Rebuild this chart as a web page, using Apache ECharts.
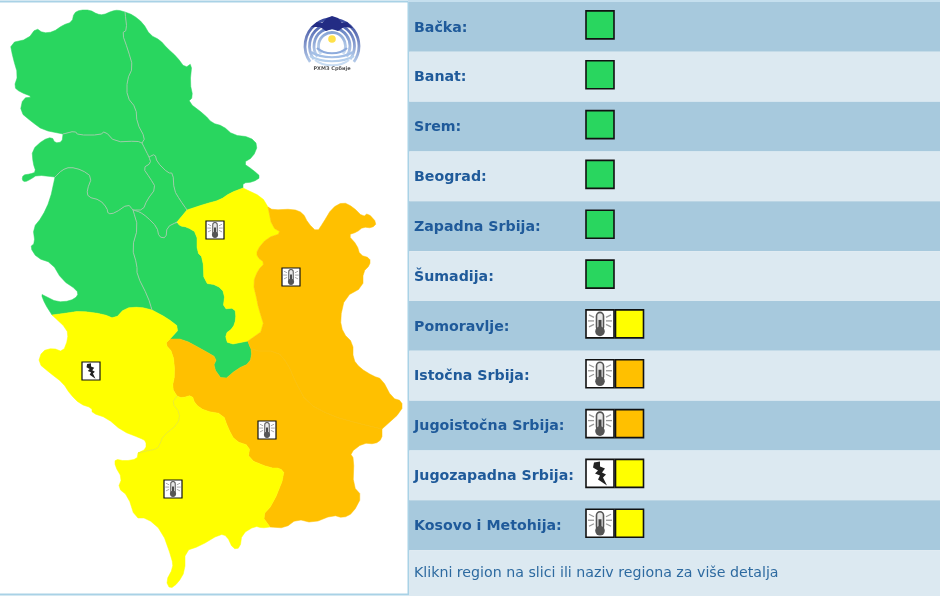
<!DOCTYPE html>
<html>
<head>
<meta charset="utf-8">
<title>Meteoalarm Srbija</title>
<style>
html, body { margin: 0; padding: 0; background: #fff; }
#main { width: 940px; height: 596px; }
</style>
<script src="https://cdn.jsdelivr.net/npm/echarts@6/dist/echarts.min.js"></script>
</head>
<body>
<div id="main"></div>
<script>
var GREEN = '#29d65f', YELLOW = '#ffff00', ORANGE = '#ffc000';

// table
var regionNames = ['Bačka', 'Banat', 'Srem', 'Beograd', 'Zapadna Srbija', 'Šumadija', 'Pomoravlje',
    'Istočna Srbija', 'Jugoistočna Srbija', 'Jugozapadna Srbija', 'Kosovo i Metohija'];
var regionColors = [GREEN, GREEN, GREEN, GREEN, GREEN, GREEN, YELLOW, ORANGE, ORANGE, YELLOW, YELLOW];
var regionIcons = ['', '', '', '', '', '', 'temp', 'temp', 'temp', 'storm', 'temp'];
var footerText = 'Klikni region na slici ili naziv regiona za više detalja';

// icons placed on the map
var mapIconPoints = [[215, 230], [291, 277], [267, 430], [91, 371], [173, 489]];
var mapIconTypes = ['temp', 'temp', 'temp', 'storm', 'temp'];

// traced region borders, in picture pixels
var backaNorth = [[125,12],[118,10],[112,11],[103,15],[97,14],[90,10],[80,10],[74,13],[72,22],[63,25],[53,32],[43,33],[36,28],[28,39],[10,43],[13,58],[18,75],[14,87],[20,92],[33,97],[23,98],[20,112],[32,122],[43,130],[63,134]];
var backaBanat = [[125,12],[127,30],[122,33],[128,50],[133,67],[127,80],[127,97],[136,108],[137,123],[145,138],[142,143]];
var backaSrem = [[63,134],[75,131],[78,135],[100,135],[105,131],[115,142],[137,141],[142,143]];
var sremCoast = [[63,134],[62,142],[55,143],[52,137],[43,140],[32,150],[33,163],[36,172],[30,174],[23,175],[22,180],[25,182],[31,179],[37,175],[55,177]];
var sremZapadna = [[55,177],[62,170],[70,167],[82,170],[92,177],[87,190],[88,197],[100,200],[107,208],[108,214],[115,213],[128,204],[133,210]];
var sremBeograd = [[133,210],[143,210],[147,200],[156,188],[150,178],[143,168],[151,163],[149,157]];
var sremBanat = [[149,157],[142,143]];
var beogradBanat = [[149,157],[155,154],[157,162],[168,173],[173,173],[174,190],[180,200],[187,210]];
var beogradPom = [[187,210],[177,222]];
var beogradSum = [[177,222],[167,227],[166,238],[159,237],[157,227],[147,217],[140,212],[133,210]];
var zapadnaSum = [[133,210],[138,227],[132,248],[137,265],[137,275],[148,297],[152,310]];
var zapadnaCoast = [[55,177],[50,200],[42,217],[33,228],[35,243],[30,247],[37,258],[52,263],[62,280],[77,290],[78,296],[70,301],[57,302],[45,296],[41,294],[45,304],[52,315]];
var zapadnaJz = [[52,315],[67,313],[80,311],[103,314],[115,319],[125,308],[140,307],[152,310]];
var sumJz = [[152,310],[167,318],[180,328],[170,339]];
var sumIst = [[170,339],[183,339],[205,351],[217,358],[213,367],[223,381],[237,369],[250,363],[252,351],[248,341]];
var sumPom = [[177,222],[180,226],[187,227],[197,233],[197,252],[203,258],[204,283],[217,285],[225,293],[223,309],[235,308],[236,319],[233,328],[225,334],[228,345],[248,341]];
var banatEast = [[125,12],[133,15],[143,23],[150,35],[160,40],[167,48],[177,57],[185,68],[192,63],[190,83],[193,97],[188,102],[205,115],[212,123],[223,126],[233,135],[250,137],[258,145],[253,157],[243,163],[253,170],[261,177],[253,182],[243,183],[243,188]];
var banatPom = [[243,188],[230,193],[220,200],[205,204],[187,210]];
var pomCoast = [[243,188],[262,197],[268,207]];
var pomIst = [[268,207],[272,227],[282,233],[267,238],[257,250],[257,257],[265,263],[258,270],[253,283],[257,300],[258,306],[265,329],[248,341]];
var istCoast = [[268,207],[273,210],[293,209],[303,213],[308,223],[317,232],[323,223],[332,208],[343,202],[353,207],[363,217],[368,213],[377,223],[372,228],[363,227],[357,232],[348,235],[357,245],[360,255],[370,258],[370,265],[363,272],[363,287],[345,297],[340,319],[343,333],[353,343],[353,359],[360,368],[373,376],[382,379],[392,398],[402,401],[402,411],[382,429]];
var istJug = [[248,341],[252,351],[277,351],[288,364],[295,381],[307,403],[332,416],[357,423],[382,429]];
var jugCoast = [[382,429],[382,439],[375,444],[363,443],[350,453],[354,459],[353,486],[362,496],[353,513],[343,518],[333,515],[313,523],[297,519],[285,528],[270,527]];
var kosJug = [[177,396],[182,398],[192,395],[195,404],[205,411],[223,414],[228,428],[235,441],[250,446],[248,459],[270,468],[280,468],[285,474],[273,504],[262,516],[270,527]];
var jzIst = [[170,339],[165,344],[173,353],[175,374],[172,388],[177,396]];
var kosJz = [[177,396],[172,403],[180,413],[178,424],[163,436],[160,444],[157,449],[146,451],[138,453]];
var jzCoast = [[52,315],[67,329],[68,339],[63,352],[53,348],[42,351],[38,363],[50,373],[63,383],[70,394],[80,404],[92,408],[92,413],[107,418],[122,431],[140,438],[146,441],[146,449],[138,453]];
var kosCoast = [[138,453],[137,459],[125,461],[115,459],[115,466],[122,478],[118,488],[128,496],[135,518],[147,518],[162,531],[172,559],[173,568],[166,581],[170,589],[178,583],[185,571],[185,551],[200,546],[220,534],[227,536],[233,549],[240,548],[242,534],[255,526],[262,528],[270,527]];

function rev(a) { return a.slice().reverse(); }

// rounds the corners of a traced border, the ends stay put so neighbours still meet
function rounded(a) {
    var next = [a[0]];
    for (var i = 0; i < a.length - 1; i++) {
        var p = a[i], q = a[i + 1];
        next.push([p[0] * 0.75 + q[0] * 0.25, p[1] * 0.75 + q[1] * 0.25]);
        next.push([p[0] * 0.25 + q[0] * 0.75, p[1] * 0.25 + q[1] * 0.75]);
    }
    next.push(a[a.length - 1]);
    return next;
}

function ring() {
    var out = [];
    for (var i = 0; i < arguments.length; i++) out = out.concat(rounded(arguments[i]));
    out.push(out[0]);
    return [out];
}

var regionRings = {
    'Bačka': ring(backaNorth, backaSrem, rev(backaBanat)),
    'Banat': ring(banatEast, banatPom, rev(beogradBanat), sremBanat, rev(backaBanat)),
    'Srem': ring(sremCoast, sremZapadna, sremBeograd, sremBanat, rev(backaSrem)),
    'Beograd': ring(beogradBanat, beogradPom, beogradSum, sremBeograd),
    'Zapadna Srbija': ring(zapadnaCoast, zapadnaJz, rev(zapadnaSum), rev(sremZapadna)),
    'Šumadija': ring(zapadnaSum, sumJz, sumIst, rev(sumPom), beogradSum),
    'Pomoravlje': ring(banatPom, beogradPom, sumPom, rev(pomIst), rev(pomCoast)),
    'Istočna Srbija': ring(istCoast, rev(istJug), rev(pomIst)),
    'Jugoistočna Srbija': ring(istJug, jugCoast, rev(kosJug), rev(jzIst), sumIst),
    'Jugozapadna Srbija': ring(jzCoast, rev(kosJz), rev(jzIst), rev(sumJz), rev(zapadnaJz)),
    'Kosovo i Metohija': ring(kosCoast, rev(kosJug), kosJz)
};

// inner borders only, the coast has no line in the reference
var greenEdges = [backaBanat, backaSrem, sremBanat, sremZapadna, sremBeograd, beogradBanat, beogradSum, zapadnaSum];
var yellowEdges = [kosJz];
var orangeEdges = [istJug];

var features = regionNames.map(function (name) {
    return {
        type: 'Feature',
        properties: { name: name },
        geometry: { type: 'Polygon', coordinates: regionRings[name] }
    };
});
echarts.registerMap('srbija', { type: 'FeatureCollection', features: features });

var minX = 1e9, maxX = -1e9, minY = 1e9, maxY = -1e9;
regionNames.forEach(function (name) {
    regionRings[name][0].forEach(function (p) {
        minX = Math.min(minX, p[0]); maxX = Math.max(maxX, p[0]);
        minY = Math.min(minY, p[1]); maxY = Math.max(maxY, p[1]);
    });
});

function edgeLines(list, color) {
    return list.map(function (e) {
        return { coords: rounded(e), lineStyle: { color: color } };
    });
}

// warning icon in a white box, x/y is the top left corner
function iconShapes(type, x, y, s) {
    var k = s / 28;
    var out = [{
        type: 'rect',
        shape: { x: x, y: y, width: s, height: s },
        style: { fill: '#fff', stroke: '#111', lineWidth: s > 20 ? 1.6 : 1.2 }
    }];
    if (type === 'storm') {
        out.push({
            type: 'polygon',
            shape: {
                points: [[8, 3], [14, 2], [14, 7], [19, 9], [16, 13], [20, 15], [17, 18], [21, 26], [12, 20],
                    [14, 16], [9, 14], [12, 11], [7, 8]].map(function (p) { return [x + p[0] * k, y + p[1] * k]; })
            },
            style: { fill: '#222' }
        });
        return out;
    }
    out.push({
        type: 'rect',
        shape: { x: x + 10.5 * k, y: y + 2.5 * k, width: 7 * k, height: 18 * k, r: 3.5 * k },
        style: { fill: '#e8e8e8', stroke: '#555', lineWidth: 1.6 * k }
    });
    out.push({
        type: 'rect',
        shape: { x: x + 12.5 * k, y: y + 10 * k, width: 3 * k, height: 11 * k },
        style: { fill: '#444' }
    });
    out.push({
        type: 'circle',
        shape: { cx: x + 14 * k, cy: y + 21.5 * k, r: 4.8 * k },
        style: { fill: '#555' }
    });
    [[3, 5, 8, 7.5], [2, 11, 8, 11], [3, 17, 8, 14.5], [25, 5, 20, 7.5], [26, 11, 20, 11], [25, 17, 20, 14.5]].forEach(function (l) {
        out.push({
            type: 'line',
            shape: { x1: x + l[0] * k, y1: y + l[1] * k, x2: x + l[2] * k, y2: y + l[3] * k },
            style: { stroke: '#999', lineWidth: 1.3 * k }
        });
    });
    return out;
}

function renderRow(params, api) {
    var i = params.dataIndex;
    var c = api.coord([0, i]);
    var h = api.size([0, 1])[1];
    var kids = [{
        type: 'rect',
        shape: { x: 409, y: c[1] - h / 2, width: 531, height: h },
        style: { fill: i % 2 === 0 ? '#a7c9dd' : '#dce9f1' }
    }];
    if (i === regionNames.length) {
        kids.push({
            type: 'text',
            style: { x: 414, y: c[1] - 2, text: footerText, fill: '#2d6aa0', font: '14.2px "DejaVu Sans"', verticalAlign: 'middle' }
        });
        return { type: 'group', children: kids };
    }
    kids.push({
        type: 'text',
        style: { x: 414, y: c[1] + 1, text: regionNames[i] + ':', fill: '#1f5a9a', font: 'bold 14.2px "DejaVu Sans"', verticalAlign: 'middle' }
    });
    var boxX = 586, boxY = c[1] - 16;
    if (regionIcons[i]) {
        kids = kids.concat(iconShapes(regionIcons[i], boxX, boxY, 28));
        boxX += 29.5;
    }
    kids.push({
        type: 'rect',
        shape: { x: boxX, y: boxY, width: 28, height: 28 },
        style: { fill: regionColors[i], stroke: '#111', lineWidth: 1.6 }
    });
    return { type: 'group', children: kids };
}

function renderMapIcon(params, api) {
    var c = api.coord(mapIconPoints[params.dataIndex]);
    return {
        type: 'group',
        children: iconShapes(mapIconTypes[params.dataIndex], c[0] - 9, c[1] - 9, 18)
    };
}

// agency logo, top right of the map
var logoArcs = [[27, '#2f3f98', '#b9d0ec'], [22.5, '#3f55a8', '#c0d6ef'], [18, '#5b78bd', '#c8dcf2'], [13.5, '#7f9ed2', '#d3e4f5']];
var logoShapes = logoArcs.map(function (a) {
    return {
        type: 'arc',
        shape: { cx: 332, cy: 46, r: a[0], startAngle: Math.PI * 0.8, endAngle: Math.PI * 0.2 },
        style: {
            fill: 'none',
            lineWidth: 2.8,
            stroke: { type: 'linear', x: 0, y: 0, x2: 0, y2: 1, colorStops: [{ offset: 0, color: a[1] }, { offset: 1, color: a[2] }] }
        }
    };
});
[[51, '#8dabdc', 15], [55, '#a3bfe6', 21], [59, '#b5cfec', 22], [63, '#c8dcf2', 17]].forEach(function (w) {
    logoShapes.push({
        type: 'bezierCurve',
        shape: { x1: 332 - w[2], y1: w[0] - 3, x2: 332 + w[2], y2: w[0] - 3, cpx1: 332 - w[2] / 2, cpy1: w[0] + 4, cpx2: 332 + w[2] / 2, cpy2: w[0] + 4 },
        style: { fill: 'none', stroke: w[1], lineWidth: 2.2 }
    });
});
logoShapes.push({
    type: 'polygon',
    shape: { points: [[311, 27], [317, 22], [322, 23], [327, 18], [332, 16], [338, 18], [342, 23], [347, 22], [353, 28], [344, 27], [338, 31], [332, 29], [326, 31], [320, 27]] },
    style: { fill: '#232c84' }
});
logoShapes.push({
    type: 'circle',
    shape: { cx: 332, cy: 39, r: 3.8 },
    style: { fill: '#ffe14a' }
});
logoShapes.push({
    type: 'text',
    style: { x: 332, y: 69, text: 'РХМЗ Србије', fill: '#555', font: 'bold 5px "DejaVu Sans"', align: 'center', verticalAlign: 'middle' }
});

var myChart = echarts.init(document.getElementById('main'));
var option = {
    animation: false,
    backgroundColor: '#ffffff',
    graphic: [{
        type: 'rect',
        silent: true,
        z: -1,
        shape: { x: -3, y: 1.5, width: 411.5, height: 593 },
        style: { fill: '#fff', stroke: '#a9d2e6', lineWidth: 2 }
    }, {
        type: 'rect',
        silent: true,
        z: -1,
        shape: { x: 408, y: 0, width: 532, height: 2 },
        style: { fill: '#c5dfee' }
    }, {
        type: 'group',
        silent: true,
        z: 1,
        children: logoShapes
    }],
    grid: { left: 409, top: 2, right: 0, bottom: -4, outerBoundsMode: 'none' },
    xAxis: { type: 'value', show: false, min: 0, max: 1 },
    yAxis: {
        type: 'category',
        inverse: true,
        show: false,
        data: regionNames.concat([footerText])
    },
    geo: {
        map: 'srbija',
        roam: false,
        silent: true,
        projection: {
            project: function (p) { return p; },
            unproject: function (p) { return p; }
        },
        left: minX,
        top: minY,
        width: maxX - minX,
        height: maxY - minY,
        label: { show: false },
        regions: regionNames.map(function (name, i) {
            return { name: name, itemStyle: { areaColor: regionColors[i], borderColor: regionColors[i], borderWidth: 0.5 } };
        })
    },
    series: [{
        type: 'custom',
        coordinateSystem: 'cartesian2d',
        silent: true,
        clip: false,
        renderItem: renderRow,
        data: regionNames.concat([footerText]).map(function (n, i) { return [0, i]; })
    }, {
        type: 'lines',
        coordinateSystem: 'geo',
        polyline: true,
        silent: true,
        lineStyle: { width: 1, opacity: 1 },
        data: edgeLines(greenEdges, '#9ccca8').concat(edgeLines(yellowEdges, '#ecec30'), edgeLines(orangeEdges, '#fbc10f'))
    }, {
        type: 'custom',
        coordinateSystem: 'geo',
        silent: true,
        z: 5,
        renderItem: renderMapIcon,
        data: mapIconPoints
    }]
};
option && myChart.setOption(option);
</script>
</body>
</html>
